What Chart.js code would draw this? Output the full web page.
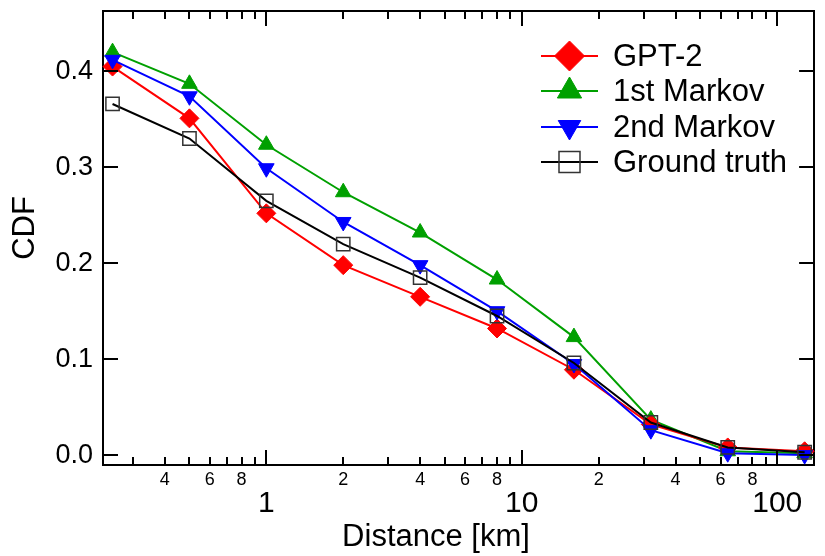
<!DOCTYPE html>
<html><head><meta charset="utf-8">
<script src="https://cdn.jsdelivr.net/npm/chart.js@4.4.1/dist/chart.umd.min.js"></script>
<style>html,body{margin:0;padding:0;background:#fff;}canvas{display:block;}</style>
</head><body>
<canvas id="c" width="825" height="556"></canvas>
<script>
// ---- data ----
const distances   = [0.25, 0.5, 1, 2, 4, 8, 16, 32, 64, 128];
const gpt2        = [0.405, 0.351, 0.252, 0.198, 0.165, 0.132, 0.089, 0.032, 0.008, 0.004];
const markov1     = [0.420, 0.387, 0.3235, 0.274, 0.232, 0.183, 0.123, 0.037, 0.004, 0.002];
const markov2     = [0.412, 0.374, 0.299, 0.243, 0.198, 0.150, 0.095, 0.026, 0.002, 0.000];
const groundTruth = [0.366, 0.330, 0.265, 0.220, 0.185, 0.145, 0.096, 0.034, 0.008, 0.003];
const seriesNames = ['GPT-2', '1st Markov', '2nd Markov', 'Ground truth'];

const xTickValues = [0.3,0.4,0.5,0.6,0.7,0.8,0.9,1,2,3,4,5,6,7,8,9,10,20,30,40,50,60,70,80,90,100];
const xTickLabels = ['','4','','6','','8','','1','2','','4','','6','','8','','10','2','','4','','6','','8','','100'];
const xMajorTicks = [1, 10, 100];
const yTickValues = [0, 0.1, 0.2, 0.3, 0.4];
const yTickLabels = ['0.0', '0.1', '0.2', '0.3', '0.4'];

const FONT = '"Liberation Sans", Arial, Helvetica, sans-serif';
Chart.defaults.font.family = FONT;
Chart.defaults.color = '#000';

const styles = [
  {color:'#ff0000', pointStyle:'rectRot', radius:9.5, rotation:0,   legendR:15,  bg:'#ff0000'},
  {color:'#00a000', pointStyle:'triangle', radius:9,  rotation:0,   legendR:14,  bg:'#00a000'},
  {color:'#0000ff', pointStyle:'triangle', radius:9,  rotation:180, legendR:13,  bg:'#0000ff'},
  {color:'#000000', pointStyle:'rect',    radius:9.4, rotation:0,   legendR:10.5, bg:'rgba(0,0,0,0)', pointBorder:'#333'}
];
const allSeries = [gpt2, markov1, markov2, groundTruth];
const drawOrder = [2, 3, 1, 0]; // lower = drawn on top

const datasets = allSeries.map((vals, k) => ({
  label: seriesNames[k],
  data: distances.map((d, i) => ({x: d, y: vals[i]})),
  borderColor: styles[k].color,
  borderWidth: 2,
  backgroundColor: styles[k].bg,
  pointStyle: styles[k].pointStyle,
  pointRadius: styles[k].radius,
  pointHoverRadius: styles[k].radius,
  pointRotation: styles[k].rotation,
  pointBackgroundColor: styles[k].bg,
  pointBorderColor: styles[k].pointBorder || styles[k].color,
  pointBorderWidth: k === 3 ? 1.5 : 1,
  tension: 0,
  fill: false,
  clip: false,
  order: drawOrder[k]
}));

function drawMarker(ctx, st, x, y, r) {
  ctx.beginPath();
  if (st.pointStyle === 'rectRot') {
    ctx.moveTo(x - r, y); ctx.lineTo(x, y - r); ctx.lineTo(x + r, y); ctx.lineTo(x, y + r);
  } else if (st.pointStyle === 'triangle') {
    const s = st.rotation === 180 ? -1 : 1;
    ctx.moveTo(x, y - s * r);
    ctx.lineTo(x + r * 0.866, y + s * r / 2);
    ctx.lineTo(x - r * 0.866, y + s * r / 2);
  } else {
    ctx.rect(x - r, y - r, 2 * r, 2 * r);
  }
  ctx.closePath();
}

function noPad(s) { s.paddingTop = 0; s.paddingBottom = 0; s.paddingLeft = 0; s.paddingRight = 0; }

const decor = {
  id: 'decor',
  afterDraw(chart) {
    const {ctx, chartArea: a, scales: {x, y}} = chart;
    ctx.save();
    // inward tick marks on all four sides
    ctx.strokeStyle = '#000'; ctx.lineWidth = 2;
    ctx.beginPath();
    xTickValues.forEach(v => {
      const px = Math.round(x.getPixelForValue(v));
      const len = xMajorTicks.includes(v) ? 15 : 8;
      ctx.moveTo(px, a.bottom); ctx.lineTo(px, a.bottom - len);
      ctx.moveTo(px, a.top); ctx.lineTo(px, a.top + len);
    });
    yTickValues.forEach(v => {
      const py = Math.round(y.getPixelForValue(v));
      ctx.moveTo(a.left, py); ctx.lineTo(a.left + 15, py);
      ctx.moveTo(a.right, py); ctx.lineTo(a.right - 15, py);
    });
    ctx.stroke();
    // axis titles
    ctx.fillStyle = '#000';
    ctx.font = '31px ' + FONT;
    ctx.textAlign = 'center'; ctx.textBaseline = 'middle';
    ctx.fillText('Distance [km]', 436, 537);
    ctx.save();
    ctx.translate(25, 228); ctx.rotate(-Math.PI / 2);
    ctx.fillText('CDF', 0, 0);
    ctx.restore();
    // legend
    const rows = [56, 91, 127, 162];
    ctx.font = '31px ' + FONT;
    ctx.textAlign = 'left';
    styles.forEach((st, k) => {
      const yy = rows[k];
      ctx.strokeStyle = st.color; ctx.lineWidth = 2;
      ctx.beginPath(); ctx.moveTo(541, yy); ctx.lineTo(598, yy); ctx.stroke();
      drawMarker(ctx, st, 569.5, yy, st.legendR);
      ctx.fillStyle = st.bg; ctx.fill();
      ctx.strokeStyle = st.pointBorder || st.color; ctx.lineWidth = k === 3 ? 1.5 : 1;
      ctx.stroke();
      ctx.fillStyle = '#000';
      ctx.fillText(seriesNames[k], 613, yy + 1);
    });
    ctx.restore();
  }
};

new Chart(document.getElementById('c'), {
  type: 'line',
  data: {datasets},
  plugins: [decor],
  options: {
    responsive: false,
    animation: false,
    devicePixelRatio: 1,
    layout: {padding: {left: 0, right: 8, top: 7, bottom: 0}},
    plugins: {legend: {display: false}, tooltip: {enabled: false}},
    scales: {
      x: {
        type: 'logarithmic', position: 'bottom',
        min: 0.2294, max: 139.4,
        afterBuildTicks: s => { s.ticks = xTickValues.map(v => ({value: v, major: xMajorTicks.includes(v)})); },
        afterFit: s => { s.height = 91; noPad(s); },
        grid: {display: false, drawTicks: false},
        border: {display: true, color: '#000', width: 2},
        ticks: {
          autoSkip: false, maxRotation: 0, minRotation: 0, padding: 4, color: '#000',
          callback: (v, i) => xMajorTicks.includes(xTickValues[i]) ? ['', xTickLabels[i]] : xTickLabels[i],
          font: ctx => (ctx.tick && xMajorTicks.includes(ctx.tick.value)) ? {size: 30, lineHeight: 0.78} : {size: 18, lineHeight: 1.2}
        }
      },
      x2: {
        type: 'logarithmic', position: 'top', min: 0.2294, max: 139.4,
        afterFit: s => { s.height = 0; noPad(s); },
        grid: {display: false, drawTicks: false},
        border: {display: true, color: '#000', width: 2},
        ticks: {display: false}
      },
      y: {
        type: 'linear', position: 'left',
        min: -0.0103, max: 0.463,
        afterBuildTicks: s => { s.ticks = yTickValues.map(v => ({value: v})); },
        afterFit: s => { s.width = 103; noPad(s); },
        grid: {display: false, drawTicks: false},
        border: {display: true, color: '#000', width: 2},
        ticks: {padding: 10, color: '#000', font: {size: 27}, callback: (v, i) => yTickLabels[i]}
      },
      y2: {
        type: 'linear', position: 'right', min: -0.0103, max: 0.463,
        afterFit: s => { s.width = 0; noPad(s); },
        grid: {display: false, drawTicks: false},
        border: {display: true, color: '#000', width: 2},
        ticks: {display: false}
      }
    }
  }
});
</script>
</body></html>
